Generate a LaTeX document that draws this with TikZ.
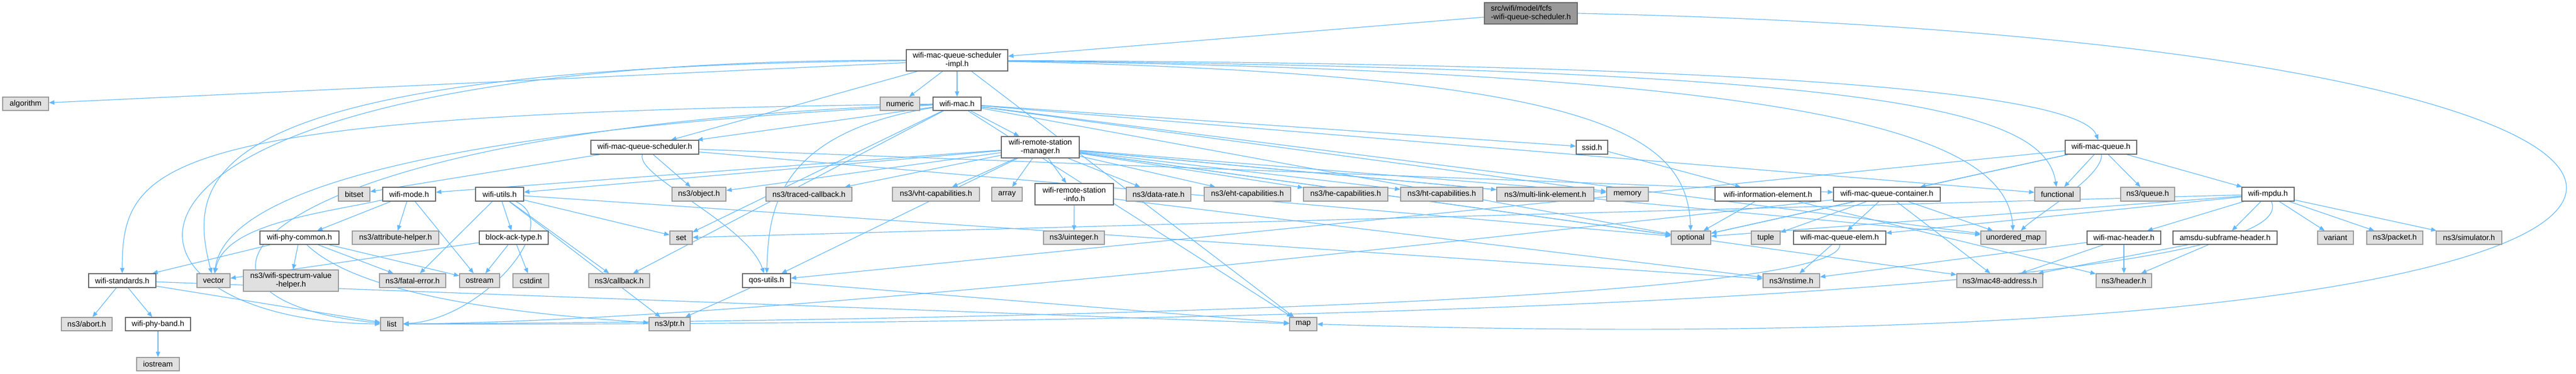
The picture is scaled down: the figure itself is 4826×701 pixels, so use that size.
\documentclass[tikz,border=0pt]{standalone}
\usepackage{fontspec}
\setmainfont{Liberation Sans}
\usetikzlibrary{arrows.meta,backgrounds}
\definecolor{edgec}{HTML}{63B8FF}
\definecolor{extfill}{HTML}{E0E0E0}
\definecolor{extline}{HTML}{999999}
\definecolor{intline}{HTML}{666666}
\definecolor{rootfill}{HTML}{999999}
\newcommand\mkbox[7]{\node[#2, minimum width={#4-#3}, minimum height={#6-#5}] (#1) at ({(#3+#4)/2},{-(#5+#6)/2}) {#7};}
\begin{document}
\begin{tikzpicture}[x=1pt,y=1pt,
 base/.style={draw, line width=1.4pt, inner sep=0pt, font=\fontsize{14.5}{16}\selectfont, align=center, text=black},
 intn/.style={base, fill=white, draw=intline},
 extn/.style={base, fill=extfill, draw=extline},
 rootn/.style={base, fill=rootfill, draw=intline, align=left},
 dep/.style={draw=edgec, line width=1.2pt, -{Triangle[length=10pt,width=8pt]}}]
\useasboundingbox (0,0) rectangle (4826,-701);
% row 0
\mkbox{fcfs}{rootn}{2781}{2955}{5}{45}{src/wifi/model/fcfs\\-wifi-queue-scheduler.h}
% row 1
\mkbox{impl}{intn}{1698}{1888}{93}{133}{wifi-mac-queue-scheduler\\-impl.h}
% row 2
\mkbox{alg}{extn}{5}{91}{182}{207}{algorithm}
\mkbox{numeric}{extn}{1649}{1723}{182}{207}{numeric}
\mkbox{wmac}{intn}{1748}{1838}{182}{207}{wifi-mac.h}
% row 3
\mkbox{wmqs}{intn}{1107}{1309}{263}{289}{wifi-mac-queue-scheduler.h}
\mkbox{wrsm}{intn}{1876}{2022}{256}{296}{wifi-remote-station\\-manager.h}
\mkbox{ssid}{intn}{2953}{3012}{263}{289}{ssid.h}
\mkbox{wmq}{intn}{3869}{4003}{263}{289}{wifi-mac-queue.h}
% row 4
\mkbox{bitset}{extn}{634}{693}{351}{377}{bitset}
\mkbox{wmode}{intn}{717}{816}{351}{377}{wifi-mode.h}
\mkbox{wutils}{intn}{891}{981}{351}{377}{wifi-utils.h}
\mkbox{object}{extn}{1259}{1360}{351}{377}{ns3/object.h}
\mkbox{traced}{extn}{1435}{1596}{351}{377}{ns3/traced-callback.h}
\mkbox{vht}{extn}{1672}{1835}{351}{377}{ns3/vht-capabilities.h}
\mkbox{array}{extn}{1858}{1915}{351}{377}{array}
\mkbox{wrsi}{intn}{1939}{2086}{344}{384}{wifi-remote-station\\-info.h}
\mkbox{datarate}{extn}{2110}{2231}{351}{377}{ns3/data-rate.h}
\mkbox{eht}{extn}{2256}{2418}{351}{377}{ns3/eht-capabilities.h}
\mkbox{he}{extn}{2442}{2600}{351}{377}{ns3/he-capabilities.h}
\mkbox{ht}{extn}{2624}{2778}{351}{377}{ns3/ht-capabilities.h}
\mkbox{mle}{extn}{2804}{2986}{351}{377}{ns3/multi-link-element.h}
\mkbox{memory}{extn}{3010}{3088}{351}{377}{memory}
\mkbox{wie}{intn}{3213}{3411}{351}{377}{wifi-information-element.h}
\mkbox{wmqc}{intn}{3435}{3635}{351}{377}{wifi-mac-queue-container.h}
\mkbox{functional}{extn}{3812}{3897}{351}{377}{functional}
\mkbox{queue}{extn}{3973}{4074}{351}{377}{ns3/queue.h}
\mkbox{mpdu}{intn}{4200}{4298}{351}{377}{wifi-mpdu.h}
% row 5
\mkbox{wpc}{intn}{487}{635}{433}{458}{wifi-phy-common.h}
\mkbox{attr}{extn}{660}{822}{433}{458}{ns3/attribute-helper.h}
\mkbox{bat}{intn}{898}{1027}{433}{458}{block-ack-type.h}
\mkbox{set}{extn}{1255}{1297}{433}{458}{set}
\mkbox{uinteger}{extn}{1955}{2069}{433}{458}{ns3/uinteger.h}
\mkbox{optional}{extn}{3131}{3205}{433}{458}{optional}
\mkbox{tuple}{extn}{3281}{3335}{433}{458}{tuple}
\mkbox{wmqe}{intn}{3360}{3533}{433}{458}{wifi-mac-queue-elem.h}
\mkbox{umap}{extn}{3711}{3833}{433}{458}{unordered\_map}
\mkbox{wmh}{intn}{3910}{4048}{433}{458}{wifi-mac-header.h}
\mkbox{amsdu}{intn}{4071}{4266}{433}{458}{amsdu-subframe-header.h}
\mkbox{variant}{extn}{4342}{4409}{433}{458}{variant}
\mkbox{packet}{extn}{4434}{4539}{433}{458}{ns3/packet.h}
\mkbox{simulator}{extn}{4564}{4687}{433}{458}{ns3/simulator.h}
% row 6
\mkbox{wstd}{intn}{166}{292}{513}{539}{wifi-standards.h}
\mkbox{vector}{extn}{369}{431}{513}{539}{vector}
\mkbox{wsvh}{extn}{456}{634}{506}{546}{ns3/wifi-spectrum-value\\-helper.h}
\mkbox{fatal}{extn}{711}{835}{513}{539}{ns3/fatal-error.h}
\mkbox{ostream}{extn}{861}{936}{513}{539}{ostream}
\mkbox{cstdint}{extn}{961}{1028}{513}{539}{cstdint}
\mkbox{callback}{extn}{1103}{1217}{513}{539}{ns3/callback.h}
\mkbox{qos}{intn}{1391}{1481}{513}{539}{qos-utils.h}
\mkbox{nstime}{extn}{3303}{3409}{513}{539}{ns3/nstime.h}
\mkbox{mac48}{extn}{3666}{3827}{513}{539}{ns3/mac48-address.h}
\mkbox{header}{extn}{3927}{4031}{513}{539}{ns3/header.h}
% row 7
\mkbox{abort}{extn}{115}{210}{595}{620}{ns3/abort.h}
\mkbox{wpb}{intn}{235}{357}{595}{620}{wifi-phy-band.h}
\mkbox{list}{extn}{713}{755}{595}{620}{list}
\mkbox{ptr}{extn}{1216}{1293}{595}{620}{ns3/ptr.h}
\mkbox{map}{extn}{2416}{2467}{595}{620}{map}
% row 8
\mkbox{iostream}{extn}{256}{336}{670}{695}{iostream}

\begin{pgfonlayer}{background}
% fcfs
\draw[dep] (fcfs) -- (impl);
\draw[dep] (fcfs.east) .. controls (5500,-80) and (5500,-700) .. (map.east);
% impl
\draw[dep] (impl) -- (alg);
\draw[dep] (impl) -- (numeric);
\draw[dep] (impl) -- (wmac);
\draw[dep] (impl) -- (wmqs);
\draw[dep] (impl) .. controls (3400,-120) and (3900,-180) .. (wmq);
\draw[dep] (impl) .. controls (90,-110) and (130,-600) .. (list);
\draw[dep] (impl) .. controls (360,-125) and (350,-330) .. (vector);
\draw[dep] (impl) .. controls (3500,-130) and (3830,-200) .. (functional);
\draw[dep] (impl) .. controls (3400,-135) and (3760,-250) .. (umap);
\draw[dep] (impl) .. controls (3000,-140) and (3160,-250) .. (optional);
\draw[dep] (impl) -- (map);
% wifi-mac.h
\draw[dep] (wmac) -- (wmqs);
\draw[dep] (wmac) -- (wrsm);
\draw[dep] (wmac) -- (ssid);
\draw[dep] (wmac) .. controls (300,-212) and (229,-300) .. (wstd);
\draw[dep] (wmac) .. controls (450,-240) and (240,-560) .. (list);
\draw[dep] (wmac) .. controls (700,-250) and (420,-380) .. (vector);
\draw[dep] (wmac) .. controls (1450,-250) and (1440,-400) .. (qos);
\draw[dep] (wmac) -- (map);
\draw[dep] (wmac) -- (set);
\draw[dep] (wmac) -- (memory);
\draw[dep] (wmac) -- (optional);
\draw[dep] (wmac) -- (umap);
\draw[dep] (wmac) -- (functional);
\draw[dep] (wmac) -- (callback);
% wifi-remote-station-manager.h
\draw[dep] (wrsm) -- (wmode);
\draw[dep] (wrsm) -- (wutils);
\draw[dep] (wrsm) -- (object);
\draw[dep] (wrsm) -- (traced);
\draw[dep] (wrsm) -- (vht);
\draw[dep] (wrsm) -- (array);
\draw[dep] (wrsm) -- (wrsi);
\draw[dep] (wrsm) -- (datarate);
\draw[dep] (wrsm) -- (eht);
\draw[dep] (wrsm) -- (he);
\draw[dep] (wrsm) -- (ht);
\draw[dep] (wrsm) -- (mle);
\draw[dep] (wrsm) -- (memory);
\draw[dep] (wrsm) -- (qos);
\draw[dep] (wrsm) -- (mac48);
\draw[dep] (wrsm) -- (optional);
\draw[dep] (wrsm) -- (umap);
% wifi-remote-station-info.h
\draw[dep] (wrsi) -- (uinteger);
\draw[dep] (wrsi) -- (nstime);
% ssid, information element
\draw[dep] (ssid) -- (wie);
\draw[dep] (wie) -- (optional);
\draw[dep] (wie) -- (header);
% wifi-mac-queue-scheduler.h
\draw[dep] (wmqs) -- (bitset);
\draw[dep] (wmqs) -- (object);
\draw[dep] (wmqs) .. controls (1190,-330) and (1400,-420) .. (qos);
\draw[dep] (wmqs) -- (wmqc);
\draw[dep] (wmqs) -- (optional);
% wifi-mac-queue.h
\draw[dep] (wmq) -- (wmqc);
\draw[dep] (wmq) -- (functional);
\draw[dep] (wmq) .. controls (3940,-330) and (3820,-400) .. (umap);
\draw[dep] (wmq) -- (queue);
\draw[dep] (wmq) -- (mpdu);
\draw[dep] (wmq) -- (qos);
\draw[dep] (wmq) -- (optional);
% wifi-mac-queue-container.h
\draw[dep] (wmqc) -- (wmqe);
\draw[dep] (wmqc) -- (tuple);
\draw[dep] (wmqc) -- (optional);
\draw[dep] (wmqc) -- (umap);
\draw[dep] (wmqc) -- (mac48);
\draw[dep] (wmqc) .. controls (3000,-420) and (1500,-600) .. (list);
% wifi-mac-queue-elem.h
\draw[dep] (wmqe) -- (nstime);
\draw[dep] (wmqe) .. controls (3450,-560) and (2000,-600) .. (list);
% wifi-mpdu.h
\draw[dep] (mpdu) -- (amsdu);
\draw[dep] (mpdu) -- (wmh);
\draw[dep] (mpdu) -- (wmqe);
\draw[dep] (mpdu) -- (variant);
\draw[dep] (mpdu) -- (packet);
\draw[dep] (mpdu) -- (simulator);
\draw[dep] (mpdu) -- (optional);
\draw[dep] (mpdu) -- (set);
\draw[dep] (mpdu) .. controls (4320,-520) and (3000,-610) .. (list);
% headers
\draw[dep] (wmh) -- (header);
\draw[dep] (wmh) -- (mac48);
\draw[dep] (wmh) -- (nstime);
\draw[dep] (amsdu) -- (header);
\draw[dep] (amsdu) -- (mac48);
% qos-utils.h
\draw[dep] (qos) -- (ptr);
\draw[dep] (qos) -- (map);
% wifi-utils.h
\draw[dep] (wutils) -- (bat);
\draw[dep] (wutils) -- (fatal);
\draw[dep] (wutils) -- (callback);
\draw[dep] (wutils) -- (ptr);
\draw[dep] (wutils) -- (set);
\draw[dep] (wutils) .. controls (1060,-420) and (900,-600) .. (list);
\draw[dep] (wutils) -- (nstime);
% block-ack-type.h
\draw[dep] (bat) -- (ostream);
\draw[dep] (bat) -- (cstdint);
\draw[dep] (bat) -- (vector);
% wifi-mode.h
\draw[dep] (wmode) -- (wpc);
\draw[dep] (wmode) -- (attr);
\draw[dep] (wmode) .. controls (600,-400) and (420,-420) .. (vector);
\draw[dep] (wmode) -- (ostream);
% wifi-phy-common.h
\draw[dep] (wpc) -- (wstd);
\draw[dep] (wpc) -- (wsvh);
\draw[dep] (wpc) -- (fatal);
\draw[dep] (wpc) -- (ostream);
\draw[dep] (wpc) .. controls (680,-560) and (1000,-590) .. (ptr);
% wifi-standards.h
\draw[dep] (wstd) -- (abort);
\draw[dep] (wstd) -- (wpb);
\draw[dep] (wstd) -- (list);
\draw[dep] (wstd) -- (map);
\draw[dep] (wpb) -- (iostream);
\end{pgfonlayer}
\end{tikzpicture}
\end{document}
